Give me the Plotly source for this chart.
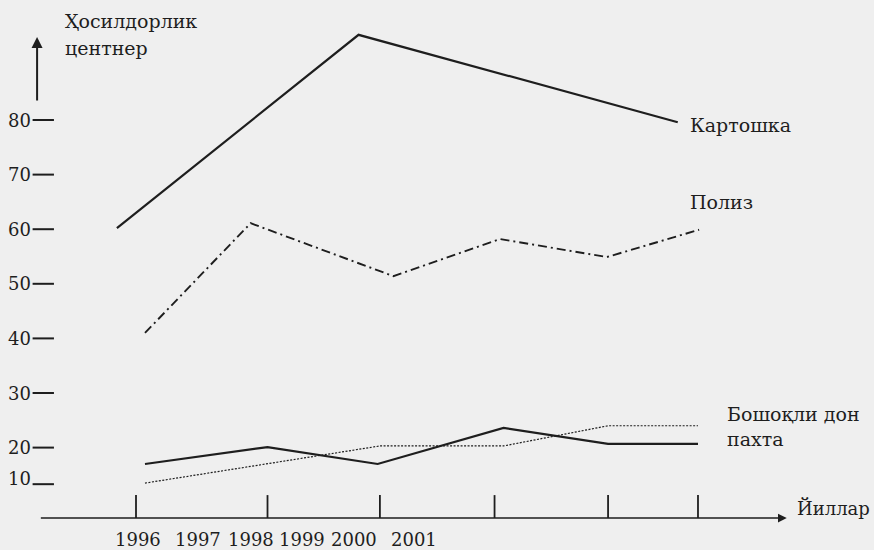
import plotly.graph_objects as go

# ---- data (x in year units, y in centner units) ----
kartoshka_x = [1995.83, 1997.98, 2000.82]
kartoshka_y = [60.2, 95.6, 79.6]

poliz_x = [1996.08, 1997.02, 1998.29, 1999.24, 2000.19, 2001.01]
poliz_y = [41.0, 61.1, 51.4, 58.2, 54.9, 59.9]

paxta_x = [1996.08, 1997.17, 1998.15, 1999.27, 2000.20, 2001.0]
paxta_y = [17.0, 20.1, 17.0, 23.6, 20.7, 20.7]

don_x = [1996.08, 1998.17, 1999.27, 2000.20, 2001.0]
don_y = [13.5, 20.3, 20.3, 24.0, 24.0]

x_tick_positions = [1996, 1997.17, 1998.17, 1999.19, 2000.2, 2001]
year_labels = ["1996", "1997", "1998", "1999", "2000", "2001"]
year_label_x = [1996.02, 1996.55, 1997.02, 1997.48, 1997.94, 1998.47]

y_tick_values = [80, 70, 60, 50, 40, 30, 20, 13.5]
y_tick_labels = ["80", "70", "60", "50", "40", "30", "20", "10"]

series_names = ["Картошка", "Полиз", "Бошоқли дон", "пахта"]

INK = "#1e1e1e"
FONT = "DejaVu Serif"
BG = "#efefef"

X_RANGE = [1994.79, 2002.566]
Y_RANGE = [1.245, 101.98]
AXIS_Y = 7.1

fig = go.Figure()

fig.add_trace(go.Scatter(x=kartoshka_x, y=kartoshka_y, mode="lines",
                         line=dict(color=INK, width=2.2), name=series_names[0]))
fig.add_trace(go.Scatter(x=poliz_x, y=poliz_y, mode="lines",
                         line=dict(color=INK, width=1.9, dash="9px,4px,2px,4px"),
                         name=series_names[1]))
fig.add_trace(go.Scatter(x=don_x, y=don_y, mode="lines",
                         line=dict(color=INK, width=1.2, dash="2px,1.5px"),
                         name=series_names[2]))
fig.add_trace(go.Scatter(x=paxta_x, y=paxta_y, mode="lines",
                         line=dict(color=INK, width=2.2), name=series_names[3]))

shapes = []
for xv in x_tick_positions:
    shapes.append(dict(type="line", xref="x", yref="y", x0=xv, x1=xv,
                       y0=AXIS_Y, y1=11.3, line=dict(color=INK, width=1.8)))
for yv in y_tick_values:
    shapes.append(dict(type="line", xref="x", yref="y", x0=1995.08, x1=1995.27,
                       y0=yv - (0.2 if yv < 15 else 0), y1=yv - (0.2 if yv < 15 else 0),
                       line=dict(color=INK, width=2)))

annotations = []
annotations.append(dict(x=2001.79, y=AXIS_Y, ax=1995.14, ay=AXIS_Y, xref="x", yref="y",
                        axref="x", ayref="y", showarrow=True, arrowhead=2, arrowsize=1.1,
                        arrowwidth=1.6, arrowcolor=INK, text=""))
annotations.append(dict(x=1995.12, y=95.2, ax=1995.12, ay=83.3, xref="x", yref="y",
                        axref="x", ayref="y", showarrow=True, arrowhead=2, arrowsize=1.1,
                        arrowwidth=2, arrowcolor=INK, text=""))
for yv, lab in zip(y_tick_values, y_tick_labels):
    annotations.append(dict(x=1995.084, y=yv + (0.9 if yv < 15 else 0), xref="x", yref="y",
                            text=lab, showarrow=False, xanchor="right", yanchor="middle",
                            font=dict(family=FONT, size=18, color=INK)))
for xv, lab in zip(year_label_x, year_labels):
    annotations.append(dict(x=xv, y=3.1, xref="x", yref="y", text=lab, showarrow=False,
                            xanchor="center", yanchor="middle",
                            font=dict(family=FONT, size=18, color=INK)))

def label(text, x, y, size=19):
    annotations.append(dict(x=x, y=y, xref="x", yref="y", text=text, showarrow=False,
                            xanchor="left", yanchor="middle",
                            font=dict(family=FONT, size=size, color=INK)))

label("Ҳосилдорлик", 1995.35, 98.2)
label("центнер", 1995.35, 93.1)
label(series_names[0], 2000.91, 79.1)
label(series_names[1], 2000.91, 65.0)
label(series_names[2], 2001.24, 26.2)
label(series_names[3], 2001.24, 21.5)
label("Йиллар", 2001.86, 9.0, size=18)

fig.update_layout(
    width=874, height=550,
    margin=dict(l=0, r=0, t=0, b=0),
    paper_bgcolor=BG, plot_bgcolor=BG,
    font=dict(family=FONT),
    showlegend=False,
    xaxis=dict(range=X_RANGE, visible=False, fixedrange=True),
    yaxis=dict(range=Y_RANGE, visible=False, fixedrange=True),
    shapes=shapes, annotations=annotations,
)

fig.write_html(
    "out.html",
    config={"displayModeBar": False},
    post_script="document.body.style.margin='0';document.body.style.overflow='hidden';",
)
